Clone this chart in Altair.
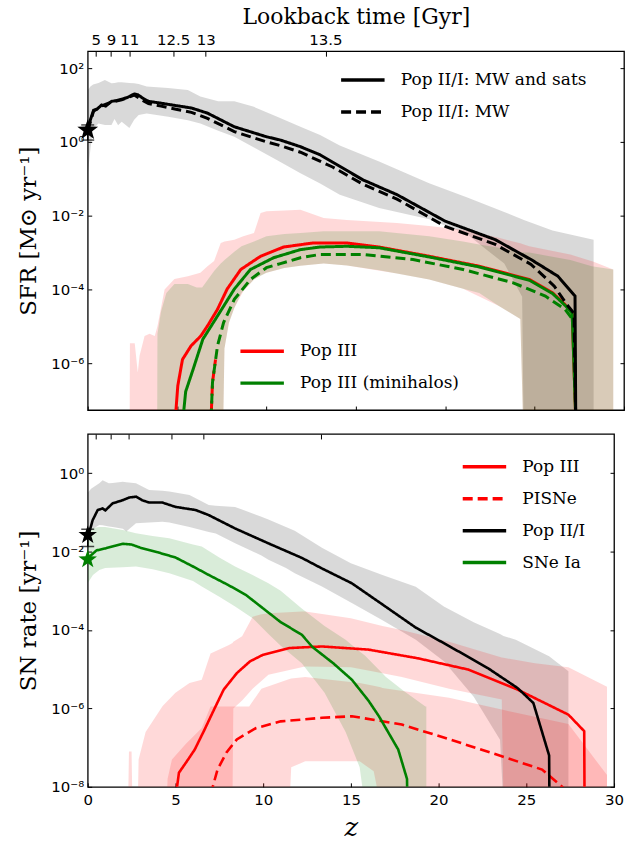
import altair as alt
import pandas as pd

SANS = "DejaVu Sans"
SERIF = "DejaVu Serif"

# ---------------- axis data ----------------
X_TICKS = [0, 5, 10, 15, 20, 25, 30]
LOOKBACK_Z = [0.45, 1.3, 2.33, 4.78, 6.6, 13.3]
LOOKBACK_LABELS = ["5", "9", "11", "12.5", "13", "13.5"]
SFR_TICKS = [-6, -4, -2, 0, 2]
SN_TICKS = [-8, -6, -4, -2, 0]

# all rates are given as log10 values
# ---------------- top panel: SFR ----------------
gray_top_z = [0, 0.15, 0.3, 0.6, 0.96, 1.33, 1.5, 1.7, 1.9, 2.33, 2.6, 2.85, 3.3, 4.5, 5.6, 6.3, 7.3, 8.2, 9.3, 10.6, 11.9, 13.0, 14.1, 16.3, 19.1, 21.2, 23.3, 24.3, 24.4, 26.0, 28.3]
gray_top_hi = [1.4, 1.5, 1.56, 1.6, 1.68, 1.59, 1.6, 1.62, 1.62, 1.6, 1.59, 1.57, 1.5, 1.46, 1.41, 1.23, 1.1, 1.1, 0.95, 0.68, 0.41, 0.19, -0.1, -0.53, -1.12, -1.5, -1.9, -2.1, -2.12, -2.4, -2.65]
gray_top_lo = [-0.9, -0.2, 0.35, 0.5, 0.46, 0.46, 0.62, 0.45, 0.55, 0.38, 0.6, 0.73, 0.77, 0.68, 0.59, 0.5, 0.3, 0.14, -0.15, -0.5, -0.85, -1.13, -1.43, -1.79, -2.1, -2.5, -3.3, -4.2, -8.5, -8.5, -8.5]

pink_top_z = [2.34, 2.36, 2.63, 2.8, 2.9, 3.18, 3.46, 3.75, 3.9, 4.3, 4.85, 5.6, 6.3, 6.7, 7.07, 7.44, 7.55, 7.65, 7.9, 8.2, 8.7, 9.3, 9.67, 10.0, 11.0, 11.9, 13.2, 14.5, 17.3, 19.1, 21.0, 23.0, 24.2, 24.4, 24.7, 27.0, 28.3, 29.4]
pink_top_hi = [-8.5, -5.46, -5.46, -6.25, -5.8, -5.26, -5.2, -5.26, -5.0, -4.0, -3.72, -3.64, -3.55, -3.37, -3.23, -2.74, -2.72, -2.7, -2.68, -2.65, -2.56, -2.47, -1.93, -1.88, -1.86, -1.84, -2.06, -2.12, -2.2, -2.28, -2.38, -2.6, -2.75, -2.78, -2.83, -3.05, -3.25, -3.46]
pink_top_lo = [-8.5, -8.5, -8.5, -8.5, -8.5, -8.5, -8.5, -8.5, -8.5, -8.5, -8.5, -8.5, -8.5, -8.5, -8.5, -8.5, -8.5, -5.6, -4.9, -4.5, -4.05, -3.73, -3.62, -3.55, -3.42, -3.36, -3.3, -3.35, -3.57, -3.73, -3.98, -4.45, -4.8, -8.5, -8.5, -8.5, -8.5, -8.5]

green_top_z = [3.88, 3.9, 4.1, 4.4, 4.85, 5.6, 6.1, 6.4, 7.07, 7.44, 7.55, 7.65, 7.9, 8.2, 8.6, 9.3, 10.0, 11.0, 11.9, 13.2, 14.5, 16.3, 19.1, 21.0, 21.9, 23.0, 24.2, 24.4, 24.7, 27.0, 28.2, 29.4]
green_top_hi = [-8.5, -5.2, -4.6, -4.1, -3.85, -3.85, -3.95, -3.95, -3.5, -3.3, -3.25, -3.2, -3.1, -2.98, -2.83, -2.7, -2.56, -2.5, -2.47, -2.42, -2.42, -2.42, -2.56, -2.7, -2.78, -2.87, -2.98, -3.0, -3.0, -3.2, -3.37, -3.46]
green_top_lo = [-8.5, -8.5, -8.5, -8.5, -8.5, -8.5, -8.5, -8.5, -8.5, -8.5, -8.5, -5.6, -4.9, -4.5, -4.1, -3.73, -3.55, -3.42, -3.36, -3.3, -3.35, -3.48, -3.73, -3.98, -4.1, -4.45, -4.8, -8.5, -8.5, -8.5, -8.5, -8.5]

popii_sats_z = [0, 0.15, 0.33, 0.5, 0.78, 1.0, 1.33, 1.6, 1.9, 2.2, 2.6, 2.8, 3.1, 3.4, 4.1, 5.0, 5.8, 6.7, 8.2, 10.0, 10.78, 11.9, 13.0, 13.7, 15.4, 17.3, 20.0, 22.8, 24.8, 26.3, 27.26, 27.3]
popii_sats_v = [0.32, 0.6, 0.86, 0.88, 1.0, 0.97, 1.1, 1.12, 1.16, 1.2, 1.3, 1.28, 1.18, 1.1, 1.05, 0.98, 0.92, 0.78, 0.41, 0.14, 0.05, -0.13, -0.35, -0.55, -1.03, -1.43, -2.15, -2.65, -3.19, -3.64, -4.18, -7.5]
popii_mw_z = [0, 0.33, 0.78, 1.33, 1.9, 2.6, 3.1, 3.4, 4.1, 5.0, 5.8, 6.7, 8.2, 10.0, 10.78, 11.9, 13.7, 15.4, 17.3, 20.0, 22.8, 24.8, 26.1, 26.8, 27.2, 27.3]
popii_mw_v = [0.3, 0.84, 0.98, 1.08, 1.14, 1.27, 1.12, 1.04, 0.97, 0.88, 0.8, 0.64, 0.28, 0.0, -0.1, -0.28, -0.68, -1.15, -1.55, -2.29, -2.78, -3.32, -3.91, -4.41, -4.65, -7.5]

popiii_z = [4.9, 5.04, 5.3, 5.78, 6.33, 6.7, 7.26, 7.8, 8.56, 9.67, 10.96, 12.6, 14.5, 16.3, 19.1, 21.9, 24.7, 26.0, 26.7, 27.1, 27.3]
popiii_v = [-7.5, -6.61, -5.9, -5.53, -5.26, -4.99, -4.54, -3.99, -3.46, -3.1, -2.85, -2.74, -2.74, -2.85, -3.1, -3.37, -3.73, -4.09, -4.41, -4.63, -7.5]
mini_z = [5.33, 5.48, 5.9, 6.44, 7.26, 8.2, 9.1, 10.4, 11.9, 13.0, 14.5, 16.3, 19.1, 21.9, 24.7, 26.0, 26.7, 27.1, 27.3]
mini_v = [-7.5, -6.77, -6.16, -5.35, -4.72, -3.99, -3.46, -3.14, -2.92, -2.85, -2.83, -2.87, -3.12, -3.39, -3.75, -4.11, -4.43, -4.65, -7.5]
mini_mw_z = [6.9, 6.98, 7.26, 7.6, 8.2, 9.1, 10.0, 10.78, 11.9, 13.0, 15.4, 18.2, 21.0, 23.8, 25.6, 26.7, 27.2, 27.3]
mini_mw_v = [-7.5, -6.52, -5.53, -4.9, -4.27, -3.73, -3.41, -3.3, -3.14, -3.05, -3.05, -3.19, -3.46, -3.82, -4.18, -4.54, -4.86, -7.5]
popiii_mw_z = [6.9, 6.98, 7.15]
popiii_mw_v = [-7.5, -6.52, -5.9]

sfr_star_z = [0]
sfr_star_v = [0.32]
sfr_err = [0.05, 0.46]

# ---------------- bottom panel: SN rate ----------------
gray_bot_z = [0, 0.19, 0.66, 0.85, 1.2, 1.42, 2.0, 2.2, 2.75, 3.5, 4.26, 4.65, 5.8, 6.9, 7.3, 8.4, 9.9, 10.3, 11.3, 11.8, 13.35, 15.0, 16.8, 18.7, 20.3, 22.0, 23.5, 23.7, 24.4, 26.3, 27.4]
gray_bot_hi = [-0.5, -0.4, -0.26, -0.18, -0.26, -0.25, -0.22, -0.23, -0.26, -0.43, -0.45, -0.47, -0.56, -0.81, -0.83, -0.86, -1.11, -1.18, -1.37, -1.47, -1.9, -2.3, -2.6, -2.9, -3.4, -3.8, -4.1, -4.15, -4.25, -4.67, -5.05]
gray_bot_lo = [-2.0, -1.45, -1.32, -1.33, -1.36, -1.37, -1.42, -1.49, -1.28, -1.26, -1.24, -1.26, -1.37, -1.5, -1.54, -1.79, -2.1, -2.21, -2.42, -2.55, -2.89, -3.3, -3.75, -4.25, -4.8, -5.7, -6.8, -8.5, -8.5, -8.5, -8.5]

ia_band_z = [0, 0.3, 0.66, 1.0, 2.0, 2.75, 3.7, 4.65, 6.0, 6.5, 7.5, 8.4, 9.4, 10.3, 11.0, 12.2, 13.5, 14.7, 15.5, 15.8, 17.0, 18.0, 19.25, 19.3]
ia_band_hi = [-1.5, -1.4, -1.37, -1.37, -1.45, -1.53, -1.6, -1.66, -1.82, -1.87, -2.15, -2.38, -2.6, -2.81, -3.0, -3.45, -3.9, -4.25, -4.55, -4.65, -5.2, -5.55, -5.95, -5.95]
ia_band_lo = [-2.8, -2.6, -2.47, -2.42, -2.4, -2.38, -2.45, -2.55, -2.75, -2.89, -3.15, -3.4, -3.7, -4.1, -4.4, -4.85, -5.6, -6.6, -7.5, -8.5, -8.5, -8.5, -8.5, -8.5]

p3_band_z = [2.3, 2.35, 2.5, 2.55, 2.85, 2.9, 3.3, 4.27, 5.0, 5.8, 6.5, 7.0, 8.05, 8.25, 8.3, 8.8, 9.4, 9.9, 10.3, 12.2, 12.4, 15.0, 16.8, 17.9, 20.6, 23.6, 23.7, 25.5, 27.4, 29.6]
p3_band_hi = [-8.5, -7.1, -7.1, -8.5, -8.5, -7.3, -6.6, -5.94, -5.6, -5.35, -5.27, -4.6, -4.38, -4.33, -4.3, -4.16, -3.66, -3.6, -3.57, -3.53, -3.53, -3.7, -3.9, -4.0, -4.3, -4.7, -4.71, -4.85, -4.95, -5.45]
p3_band_lo = [-8.5, -8.5, -8.5, -8.5, -8.5, -8.5, -8.5, -8.5, -8.5, -8.5, -8.5, -8.5, -8.5, -8.5, -6.0, -5.8, -5.5, -5.3, -5.14, -4.95, -4.93, -4.95, -5.1, -5.2, -5.5, -5.77, -8.5, -8.5, -8.5, -8.5]

pisn_band_z = [4.5, 4.55, 4.8, 5.6, 6.5, 7.0, 8.2, 9.2, 9.9, 11.5, 11.6, 12.4, 15.5, 16.3, 16.7, 16.8, 20.6, 23.6, 27.4, 29.6]
pisn_band_hi = [-8.5, -7.8, -7.3, -6.9, -6.5, -5.95, -5.95, -5.95, -5.5, -5.25, -5.24, -5.2, -5.35, -5.42, -5.46, -5.48, -5.73, -6.03, -6.4, -7.7]
pisn_band_lo = [-8.5, -8.5, -8.5, -8.5, -8.5, -8.5, -8.5, -8.5, -8.5, -8.5, -7.5, -7.35, -7.35, -7.6, -8.5, -8.5, -8.5, -8.5, -8.5, -8.5]

sn_p3_z = [5.0, 5.2, 5.65, 6.1, 6.66, 7.2, 7.75, 8.5, 9.25, 10.0, 11.5, 13.35, 16.0, 18.8, 21.7, 24.5, 27.4, 28.3, 28.32]
sn_p3_v = [-8.3, -7.64, -7.35, -7.05, -6.54, -6.03, -5.52, -5.1, -4.8, -4.63, -4.46, -4.42, -4.5, -4.72, -5.01, -5.52, -6.16, -6.58, -8.5]
sn_pisn_z = [7.0, 7.4, 7.9, 8.5, 9.6, 11.0, 13.35, 15.06, 17.9, 20.7, 23.6, 25.9, 27.3]
sn_pisn_v = [-8.2, -7.56, -7.13, -6.79, -6.5, -6.33, -6.24, -6.2, -6.41, -6.8, -7.22, -7.56, -8.1]
sn_p2_z = [0, 0.1, 0.28, 0.57, 0.85, 1.0, 1.42, 1.99, 2.37, 2.75, 3.1, 3.5, 4.26, 5.0, 6.15, 6.9, 8.4, 10.3, 12.2, 13.35, 15.06, 16.9, 18.7, 20.6, 22.8, 24.5, 25.4, 26.3, 26.32]
sn_p2_v = [-1.58, -1.49, -1.2, -0.94, -0.9, -0.95, -0.77, -0.69, -0.62, -0.6, -0.69, -0.75, -0.75, -0.86, -0.94, -1.07, -1.41, -1.79, -2.16, -2.43, -2.81, -3.38, -3.94, -4.41, -4.97, -5.48, -5.86, -7.2, -8.5]
sn_ia_z = [0, 0.1, 0.5, 1.0, 1.5, 2.0, 2.5, 3.0, 4.0, 5.0, 6.0, 7.0, 8.0, 9.0, 10.0, 11.0, 12.2, 12.8, 14.0, 15.06, 16.0, 16.6, 17.7, 18.2, 18.22]
sn_ia_v = [-2.2, -2.13, -1.97, -1.92, -1.86, -1.8, -1.82, -1.9, -2.02, -2.15, -2.38, -2.62, -2.85, -3.1, -3.45, -3.8, -4.12, -4.43, -4.85, -5.27, -5.8, -6.2, -7.05, -7.8, -8.5]

sn_star_z = [0]
sn_star_p2 = [-1.58]
sn_star_ia = [-2.2]
sn_err = [-1.87, -1.43]

TOP_NAMES = ["Pop II/I: MW and sats", "Pop II/I: MW"]
MID_NAMES = ["Pop III", "Pop III (minihalos)"]
BOT_NAMES = ["Pop III", "PISNe", "Pop II/I", "SNe Ia"]

RED, GREEN, BLACK = "#ff0000", "#008000", "#000000"
STAR = "M0,-1L0.235,-0.324L0.951,-0.309L0.38,0.124L0.588,0.809L0,0.4L-0.588,0.809L-0.38,0.124L-0.951,-0.309L-0.235,-0.324Z"

SUP = {"-": "⁻", "0": "⁰", "1": "¹", "2": "²", "3": "³", "4": "⁴",
       "5": "⁵", "6": "⁶", "7": "⁷", "8": "⁸", "9": "⁹"}


def pow_expr(ticks):
    s = ""
    for t in ticks:
        sup = "".join(SUP[c] for c in str(t))
        s += f"datum.value == {t} ? '10{sup}' : "
    return s + "''"


def map_expr(vals, labels):
    s = ""
    for v, l in zip(vals, labels):
        s += f"datum.value == {v} ? '{l}' : "
    return s + "''"


def xs():
    return alt.Scale(domain=[0, 30], nice=False, zero=False)


def ys(dom):
    return alt.Scale(domain=dom, nice=False, zero=False)


def band(z, lo, hi, color, dom, xaxis=None, yaxis=None):
    d = pd.DataFrame({"z": z, "lo": lo, "hi": hi})
    return alt.Chart(d).mark_area(color=color, opacity=0.15, clip=True).encode(
        x=alt.X("z:Q", scale=xs(), axis=xaxis),
        y=alt.Y("lo:Q", scale=ys(dom), axis=yaxis),
        y2="hi:Q",
    )


def line(z, v, color, dom, dash=None, width=3.0, offset=0):
    d = pd.DataFrame({"z": z, "v": v})
    kw = dict(color=color, strokeWidth=width, clip=True)
    if dash:
        kw["strokeDash"] = dash
        if offset:
            kw["strokeDashOffset"] = offset
    return alt.Chart(d).mark_line(**kw).encode(
        x=alt.X("z:Q", scale=xs(), axis=None),
        y=alt.Y("v:Q", scale=ys(dom), axis=None),
    )


def legend_lines(series, names, colors, dashes, dom, lx, ly, rowpad, width=3.0):
    frames = [pd.DataFrame({"z": z, "v": v, "s": n}) for (z, v), n in zip(series, names)]
    d = pd.concat(frames, ignore_index=True)
    leg = alt.Legend(orient="none", legendX=lx, legendY=ly, title=None,
                     symbolType="stroke", symbolSize=1900, symbolStrokeWidth=3.5,
                     labelFont=SERIF, labelFontSize=17, labelColor="black",
                     labelOffset=14, rowPadding=rowpad, padding=0, labelLimit=400)
    return alt.Chart(d).mark_line(strokeWidth=width, clip=True).encode(
        x=alt.X("z:Q", scale=xs(), axis=None),
        y=alt.Y("v:Q", scale=ys(dom), axis=None),
        color=alt.Color("s:N", scale=alt.Scale(domain=names, range=colors), legend=leg),
        strokeDash=alt.StrokeDash("s:N", scale=alt.Scale(domain=names, range=dashes), legend=leg),
    )


def star(z, v, color, dom, size, xaxis=None, yaxis=None):
    d = pd.DataFrame({"z": z, "v": v})
    return alt.Chart(d).mark_point(shape=STAR, filled=True, size=size, color=color, opacity=1).encode(
        x=alt.X("z:Q", scale=xs(), axis=xaxis),
        y=alt.Y("v:Q", scale=ys(dom), axis=yaxis),
    )


def errbar(z, err, dom):
    d = pd.DataFrame({"z": [z[0]], "lo": [err[0]], "hi": [err[1]]})
    caps = pd.DataFrame({"z": [z[0], z[0]], "v": err})
    r = alt.Chart(d).mark_rule(color="black", strokeWidth=1.5).encode(
        x=alt.X("z:Q", scale=xs(), axis=None),
        y=alt.Y("lo:Q", scale=ys(dom), axis=None), y2="hi:Q")
    c = alt.Chart(caps).mark_tick(color="black", orient="horizontal", size=13, thickness=1.5).encode(
        x=alt.X("z:Q", scale=xs(), axis=None),
        y=alt.Y("v:Q", scale=ys(dom), axis=None))
    return r, c


def ax_common():
    return dict(domain=False, grid=False, tickColor="black", labelColor="black",
                labelFont=SANS, labelFontSize=15, titleColor="black",
                titleFont=SERIF, titleFontWeight="normal", labelFlush=False,
                labelOverlap=False)


TOP_DOM = [-7.27, 2.46]
BOT_DOM = [-8.0, 1.0]

# ---------------- top panel ----------------
top_x_bottom = alt.Axis(orient="bottom", values=X_TICKS, labels=False, title=None,
                        offset=-4, tickSize=4, **ax_common())
top_y_left = alt.Axis(orient="left", values=SFR_TICKS, labelExpr=pow_expr(SFR_TICKS),
                      offset=-4, tickSize=4, labelPadding=4, title="SFR [M⊙ yr⁻¹]",
                      titleFontSize=23, titlePadding=10, **ax_common())
top_x_top = alt.Axis(orient="top", values=LOOKBACK_Z, labelExpr=map_expr(LOOKBACK_Z, LOOKBACK_LABELS),
                     offset=-5, tickSize=5, labelPadding=4, labelAngle=0,
                     title="Lookback time [Gyr]", titleFontSize=22, titlePadding=4, **ax_common())
top_y_right = alt.Axis(orient="right", values=SFR_TICKS, labels=False, title=None,
                       offset=-4, tickSize=4, **ax_common())

e1, e2 = errbar(sfr_star_z, sfr_err, TOP_DOM)
top = alt.layer(
    band(gray_top_z, gray_top_lo, gray_top_hi, BLACK, TOP_DOM, top_x_bottom, top_y_left),
    band(pink_top_z, pink_top_lo, pink_top_hi, RED, TOP_DOM),
    band(green_top_z, green_top_lo, green_top_hi, GREEN, TOP_DOM),
    legend_lines([(popiii_z, popiii_v), (mini_z, mini_v)], MID_NAMES, [RED, GREEN],
                 [[1, 0], [1, 0]], TOP_DOM, 151, 277, -13.6),
    line(popiii_mw_z, popiii_mw_v, RED, TOP_DOM, dash=[10, 5], offset=7),
    line(mini_mw_z, mini_mw_v, GREEN, TOP_DOM, dash=[10, 5]),
    legend_lines([(popii_sats_z, popii_sats_v), (popii_mw_z, popii_mw_v)], TOP_NAMES,
                 [BLACK, BLACK], [[1, 0], [10, 5]], TOP_DOM, 252, 5, -11.6),
    e1, e2,
    star(sfr_star_z, sfr_star_v, BLACK, TOP_DOM, 480, top_x_top, top_y_right),
).resolve_scale(x="independent", y="independent", color="independent",
                strokeDash="independent").properties(width=538, height=360)

# ---------------- bottom panel ----------------
bot_x_bottom = alt.Axis(orient="bottom", values=X_TICKS, title="z", titleFontSize=26,
                        titleFontStyle="italic", titlePadding=7,
                        offset=-4, tickSize=4, labelPadding=6, **ax_common())
bot_y_left = alt.Axis(orient="left", values=SN_TICKS, labelExpr=pow_expr(SN_TICKS),
                      offset=-4, tickSize=4, labelPadding=4, title="SN rate [yr⁻¹]",
                      titleFontSize=23, titlePadding=10, **ax_common())
bot_x_top = alt.Axis(orient="top", values=LOOKBACK_Z, labels=False, title=None,
                     offset=-5, tickSize=5, **ax_common())
bot_y_right = alt.Axis(orient="right", values=SN_TICKS, labels=False, title=None,
                       offset=-4, tickSize=4, **ax_common())

b1, b2 = errbar(sn_star_z, sn_err, BOT_DOM)
bottom = alt.layer(
    band(gray_bot_z, gray_bot_lo, gray_bot_hi, BLACK, BOT_DOM, bot_x_bottom, bot_y_left),
    band(p3_band_z, p3_band_lo, p3_band_hi, RED, BOT_DOM),
    band(pisn_band_z, pisn_band_lo, pisn_band_hi, RED, BOT_DOM),
    band(ia_band_z, ia_band_lo, ia_band_hi, GREEN, BOT_DOM),
    legend_lines([(sn_p3_z, sn_p3_v), (sn_pisn_z, sn_pisn_v), (sn_p2_z, sn_p2_v), (sn_ia_z, sn_ia_v)],
                 BOT_NAMES, [RED, RED, BLACK, GREEN], [[1, 0], [10, 5], [1, 0], [1, 0]],
                 BOT_DOM, 374, 9, -15.3, width=2.6),
    b1, b2,
    star(sn_star_z, sn_star_ia, GREEN, BOT_DOM, 380),
    star(sn_star_z, sn_star_p2, BLACK, BOT_DOM, 380, bot_x_top, bot_y_right),
).resolve_scale(x="independent", y="independent", color="independent",
                strokeDash="independent").properties(width=528, height=354)

chart = alt.vconcat(top, bottom, spacing=20).properties(
    padding={"left": 17, "top": 3, "right": 0, "bottom": 0},
    background="white",
).configure_view(stroke="black", strokeWidth=1.3).configure_legend(
    labelFont=SERIF, labelFontSize=17, labelColor="black")

chart.save("out.html", embed_options={"renderer": "svg", "actions": False})
